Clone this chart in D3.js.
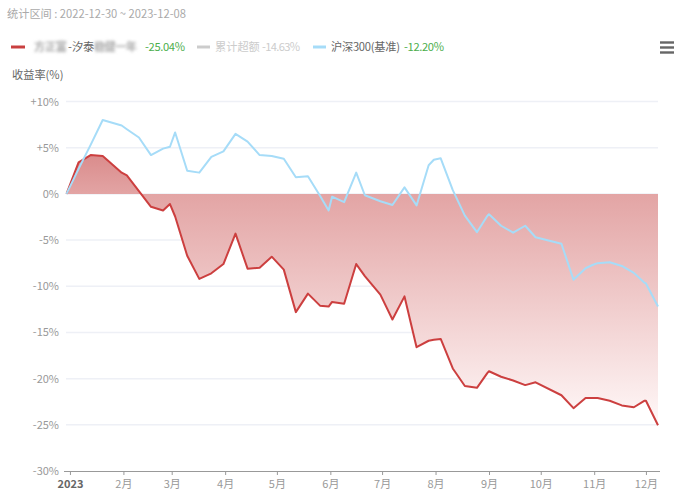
<!DOCTYPE html>
<html><head><meta charset="utf-8">
<script src="https://cdn.jsdelivr.net/npm/d3@7"></script>
<style>
body{margin:0;background:#fff;}
svg{display:block;font-family:"Noto Sans CJK SC","Noto Sans",sans-serif;}
</style>
</head><body>
<svg id="chart" width="677" height="497"></svg>
<script>
// ---------- data ----------
const dates = ["2022-12-30","2023-01-06","2023-01-13","2023-01-20","2023-01-31","2023-02-03","2023-02-10","2023-02-17","2023-02-24","2023-02-28",
"2023-03-03","2023-03-10","2023-03-17","2023-03-24","2023-03-31","2023-04-07","2023-04-14","2023-04-21","2023-04-28","2023-05-05",
"2023-05-12","2023-05-19","2023-05-26","2023-05-31","2023-06-02","2023-06-09","2023-06-16","2023-06-21","2023-06-30","2023-07-07",
"2023-07-14","2023-07-21","2023-07-28","2023-07-31","2023-08-04","2023-08-11","2023-08-18","2023-08-25","2023-08-31","2023-09-01",
"2023-09-08","2023-09-15","2023-09-22","2023-09-28","2023-10-13","2023-10-20","2023-10-27","2023-10-31","2023-11-03","2023-11-10",
"2023-11-17","2023-11-24","2023-11-30","2023-12-01","2023-12-08"];
const fundValues = [0,3.4,4.2,4.1,2.3,2.0,0.3,-1.4,-1.8,-1.1,
-2.45,-6.7,-9.2,-8.6,-7.6,-4.3,-8.1,-8.0,-6.8,-8.2,
-12.8,-10.8,-12.1,-12.2,-11.7,-11.9,-7.6,-8.9,-10.9,-13.6,
-11.1,-16.6,-15.9,-15.8,-15.7,-18.9,-20.8,-21.0,-19.4,-19.2,
-19.8,-20.2,-20.7,-20.4,-21.8,-23.2,-22.1,-22.1,-22.1,-22.4,
-22.9,-23.1,-22.4,-22.4,-25.04];
const benchValues = [0,2.7,5.3,8.0,7.4,7.0,6.1,4.2,4.9,5.1,
6.65,2.5,2.3,4.0,4.6,6.5,5.65,4.2,4.1,3.8,
1.8,1.9,-0.2,-1.8,-0.3,-0.9,2.3,-0.15,-0.8,-1.2,
0.7,-1.25,3.1,3.7,3.85,0.4,-2.35,-4.15,-2.4,-2.2,
-3.45,-4.2,-3.45,-4.7,-5.4,-9.3,-8.05,-7.7,-7.5,-7.4,
-7.8,-8.55,-9.6,-9.7,-12.2];
const yTicks = [10,5,0,-5,-10,-15,-20,-25,-30];
const monthTicks = ["2023-01-01","2023-02-01","2023-03-01","2023-04-01","2023-05-01","2023-06-01",
"2023-07-01","2023-08-01","2023-09-01","2023-10-01","2023-11-01","2023-12-01"];
const monthLabels = ["2023","2月","3月","4月","5月","6月","7月","8月","9月","10月","11月","12月"];
const titleText = "统计区间 : 2022-12-30 ~ 2023-12-08";
const yTitle = "收益率(%)";
const fundNameParts = ["方正富", "-汐泰", "稳健一年"];
const legendNames = ["累计超额","沪深300(基准)"];
const legendValues = ["-25.04%","-14.63%","-12.20%"];

// ---------- drawing ----------
const parse = d3.timeParse("%Y-%m-%d");
const svg = d3.select("#chart");
const defs = svg.append("defs");

const x = d3.scaleTime().domain([parse(dates[0]), parse(dates[dates.length-1])]).range([66.5, 658]);
const y = d3.scaleLinear().domain([-30, 10]).range([471, 101.5]);

const blur = defs.append("filter").attr("id","blur").attr("x","-20%").attr("y","-50%").attr("width","140%").attr("height","200%");
blur.append("feGaussianBlur").attr("stdDeviation", 1.8);

const grad = defs.append("linearGradient").attr("id","fill")
  .attr("gradientUnits","userSpaceOnUse").attr("x1",0).attr("x2",0)
  .attr("y1", y(d3.max(fundValues))).attr("y2", y(d3.min(fundValues)));
grad.append("stop").attr("offset","0%").attr("stop-color","#da8c8c");
grad.append("stop").attr("offset","15%").attr("stop-color","#e3a5a5");
grad.append("stop").attr("offset","100%").attr("stop-color","#fff8f8");

const FS = 11.2;
// title
svg.append("text").attr("x",7).attr("y",17.5).attr("font-size",FS).attr("fill","#aaa").text(titleText);

// legend
const ly = 47, ty = ly + 4;
svg.append("line").attr("x1",11).attr("x2",25).attr("y1",ly).attr("y2",ly).attr("stroke","#c94040").attr("stroke-width",3);
svg.append("text").attr("x",34).attr("y",ty).attr("font-size",FS).attr("fill","#aaa").attr("font-weight","bold")
  .attr("filter","url(#blur)").attr("textLength",33).text(fundNameParts[0]);
svg.append("text").attr("x",68).attr("y",ty).attr("font-size",FS).attr("fill","#666").text(fundNameParts[1]);
svg.append("text").attr("x",94).attr("y",ty).attr("font-size",FS).attr("fill","#aaa").attr("font-weight","bold")
  .attr("filter","url(#blur)").attr("textLength",43).text(fundNameParts[2]);
svg.append("text").attr("x",145).attr("y",ty).attr("font-size",FS).attr("fill","#4cae4c")
  .attr("textLength",40).text(legendValues[0]);

svg.append("line").attr("x1",197).attr("x2",210).attr("y1",ly).attr("y2",ly).attr("stroke","#ccc").attr("stroke-width",3);
svg.append("text").attr("x",215).attr("y",ty).attr("font-size",FS).attr("fill","#ccc").text(legendNames[0]);
svg.append("text").attr("x",262).attr("y",ty).attr("font-size",FS).attr("fill","#ccc")
  .attr("textLength",38).text(legendValues[1]);

svg.append("line").attr("x1",313).attr("x2",326).attr("y1",ly).attr("y2",ly).attr("stroke","#a6dcf8").attr("stroke-width",3);
svg.append("text").attr("x",331).attr("y",ty).attr("font-size",FS).attr("fill","#666")
  .attr("textLength",69).text(legendNames[1]);
svg.append("text").attr("x",404).attr("y",ty).attr("font-size",FS).attr("fill","#4cae4c")
  .attr("textLength",40).text(legendValues[2]);

// menu icon
[42.5,47.5,52.5].forEach(yy => svg.append("rect").attr("x",660).attr("y",yy-1.2).attr("width",14).attr("height",2.4).attr("fill","#666"));

// y title
svg.append("text").attr("x",12).attr("y",79).attr("font-size",FS).attr("fill","#666").text(yTitle);

// gridlines
svg.append("g").selectAll("line").data(yTicks.slice(0,-1)).join("line")
  .attr("x1",66).attr("x2",658).attr("y1",d=>y(d)).attr("y2",d=>y(d))
  .attr("stroke","#eef0f6").attr("stroke-width",1.5);

// y labels
svg.append("g").selectAll("text").data(yTicks).join("text")
  .attr("x",59).attr("y",d=>y(d)+4).attr("text-anchor","end").attr("font-size",11).attr("fill","#999")
  .text(d => (d>0?"+":"") + d + "%");

// data rows
const rows = dates.map((d,i)=>({date:parse(d), f:fundValues[i], b:benchValues[i]}));

// area
svg.append("path").datum(rows)
  .attr("d", d3.area().x(d=>x(d.date)).y0(y(0)).y1(d=>y(d.f)))
  .attr("fill","url(#fill)");

// lines
svg.append("path").datum(rows)
  .attr("d", d3.line().x(d=>x(d.date)).y(d=>y(d.f)))
  .attr("fill","none").attr("stroke","#cc3f3f").attr("stroke-width",2).attr("stroke-linejoin","round");
svg.append("path").datum(rows)
  .attr("d", d3.line().x(d=>x(d.date)).y(d=>y(d.b)))
  .attr("fill","none").attr("stroke","#a6dcf8").attr("stroke-width",2).attr("stroke-linejoin","round");

// x axis
const xAxis = d3.axisBottom(x).tickValues(monthTicks.map(parse)).tickSize(4).tickSizeOuter(0)
  .tickFormat((d,i)=>monthLabels[i]);
const gx = svg.append("g").attr("transform",`translate(0,${y(-30)})`).call(xAxis);
gx.select(".domain").attr("stroke","#999").attr("d","M64,0.5H660");
gx.selectAll(".tick line").attr("stroke","#999");
gx.selectAll(".tick text").attr("font-size",11).attr("fill","#999").attr("dy","0.95em")
  .attr("font-family",'"Noto Sans CJK SC",sans-serif');
gx.select(".tick text").attr("font-weight","bold").attr("fill","#666");
</script>
</body></html>
